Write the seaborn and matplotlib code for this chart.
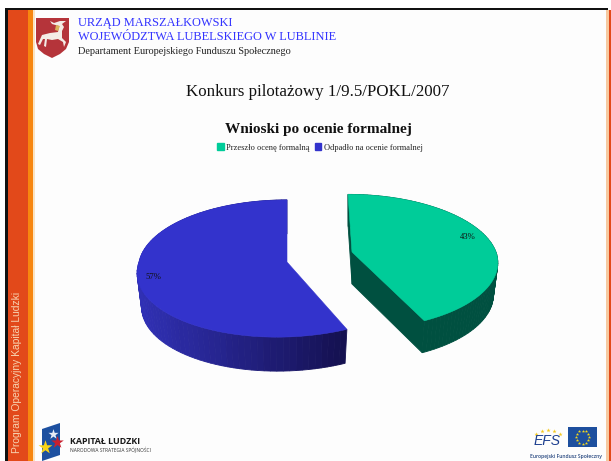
import matplotlib
matplotlib.use('Agg')
import matplotlib.pyplot as plt
from matplotlib.patches import Rectangle, Patch, Polygon
import numpy as np
import seaborn as sns

labels = ['Przeszło ocenę formalną', 'Odpadło na ocenie formalnej']
values = [43, 57]

sns.set_theme(style='white')
serif = ['Liberation Serif', 'DejaVu Serif']
plt.rcParams['font.family'] = serif

top_colors = sns.color_palette(['#00CC99', '#3333CC'])
bg = '#FDFDFD'

fig = plt.figure(figsize=(6.11, 4.61), dpi=100, facecolor='white')
ax = fig.add_axes([0, 0, 1, 1])
ax.set_xlim(0, 611)
ax.set_ylim(461, 0)
ax.axis('off')


def rect(x0, y0, x1, y1, color, z=1):
    ax.add_patch(Rectangle((x0, y0), x1 - x0, y1 - y0, color=color, lw=0, zorder=z))


# slide background and frame
rect(8, 10, 608, 461, bg)
rect(5, 8, 608, 10.5, '#111111')
rect(5, 8, 8, 461, '#111111')
rect(8, 10.5, 28, 461, '#E2491A')
rect(28, 10.5, 33, 461, '#F7860F')
rect(33, 10.5, 35, 461, '#FBE3C0')
rect(606, 10.5, 608.5, 461, '#F6C9A0')
rect(608.5, 10.5, 611, 461, '#E2491A')


def project(theta, r, geo):
    # theta clockwise from 12 o'clock, v points at the viewer
    u = r * np.sin(theta)
    v = -r * np.cos(theta)
    s = 1 / (1 - geo['k'] * v)
    x = geo['cx'] + geo['a'] * u * s + geo['shear'] * np.clip(v, 0, None) - geo['back'] * np.clip(-v, 0, None)
    y = geo['cy'] + geo['b'] * v * s
    return x, y


def slice_outline(start, end, geo):
    th = np.linspace(start, end, 90)
    x, y = project(th, 1.0, geo)
    x0, y0 = project(0.0, 0.0, geo)
    return np.r_[x0, x, x0], np.r_[y0, y, y0]


def draw_slice(start, end, geo, top, side_colors, cuts=True):
    x, y = slice_outline(start, end, geo)
    # bottom edge sits a bit further away, so it is narrower
    xb = geo['cx'] + (x - geo['cx']) * 0.97
    yb = y + geo['depth']
    lo, hi = x.min(), x.max()
    segs = np.arange(len(x) - 1) if cuts else np.arange(1, len(x) - 2)
    # side walls first, top face goes over them
    for i in segs[np.argsort(y[segs] + y[segs + 1])]:
        t = ((x[i] + x[i + 1]) / 2 - lo) / (hi - lo)
        c = side_colors[int(t * (len(side_colors) - 1))]
        ax.fill([x[i], x[i + 1], xb[i + 1], xb[i]], [y[i], y[i + 1], yb[i + 1], yb[i]],
                color=c, lw=0.6, zorder=3)
    ax.fill(x, y, color=top, lw=0.4, zorder=4)


green_geo = dict(cx=352, cy=252, a=144, b=66, k=0.145, shear=2, back=4, depth=32)
blue_geo = dict(cx=287, cy=262, a=148, b=68, k=0.095, shear=-10, back=0, depth=34)

split = 2 * np.pi * values[0] / sum(values)
green_sides = sns.blend_palette(['#005040', '#005040'], 8)
blue_sides = sns.blend_palette(['#3030B4', '#14104E'], 40)
# blue slice runs from the split on round to 12 o'clock
draw_slice(split, 2 * np.pi, blue_geo, top_colors[1], blue_sides, cuts=False)
draw_slice(0, split, green_geo, top_colors[0], green_sides)

ax.text(468, 236.5, f'{values[0]}%', fontsize=6.2, ha='center', va='center', color='#111111', zorder=5)
ax.text(153, 276.5, f'{values[1]}%', fontsize=6.2, ha='center', va='center', color='#111111', zorder=5)

# titles
ax.text(318, 92.5, 'Konkurs pilotażowy 1/9.5/POKL/2007', fontsize=12.2, ha='center', va='center', color='#111111')
ax.text(318.5, 129.5, 'Wnioski po ocenie formalnej', fontsize=11, fontweight='bold', ha='center', va='center', color='#111111')

handles = [Patch(color=c) for c in top_colors]
ax.legend(handles, labels, loc='center', bbox_to_anchor=(320, 147.5), bbox_transform=ax.transData,
          ncol=2, frameon=False, fontsize=6.0, handlelength=0.8, handleheight=0.8,
          handletextpad=0.3, columnspacing=0.6, labelcolor='#222222')

# header
ax.text(78, 23, 'URZĄD MARSZAŁKOWSKI', fontsize=8.9, color='#3333FF', va='center')
ax.text(78, 37.5, 'WOJEWÓDZTWA LUBELSKIEGO W LUBLINIE', fontsize=8.9, color='#3333FF', va='center')
ax.text(78, 51, 'Departament Europejskiego Funduszu Społecznego', fontsize=7.35, color='#222222', va='center')

# coat of arms
sh = np.array([[36, 18], [69, 18], [69, 42], [66, 49], [60, 54], [52, 58], [44, 54], [38, 49], [36, 42]])
ax.add_patch(Polygon(sh, color='#B5343A', lw=0, zorder=2))
deer = np.array([[38, 44], [42, 35], [50, 33], [58, 32], [59, 26], [52, 24], [50, 21], [54, 23], [60, 21], [66, 21],
                 [62, 24], [64, 27], [62, 31], [62, 38], [66, 42], [64, 47], [63, 42], [58, 39], [52, 40], [47, 39],
                 [43, 39], [40, 45]])
ax.add_patch(Polygon(deer, color='#F4ECE6', lw=0, zorder=3))
ax.add_patch(Polygon([[45, 39], [47, 39], [46, 47], [44, 46]], color='#F4ECE6', lw=0, zorder=3))
ax.add_patch(Polygon([[56, 25], [60, 26], [58, 31], [55, 30]], color='#D9B25A', lw=0, zorder=4))

# side band text
ax.text(17.5, 372, 'Program Operacyjny Kapitał Ludzki', rotation=90, fontsize=7.4, family='Liberation Sans',
        color='#F7D2B0', ha='center', va='center')

# Kapitał Ludzki logo
ax.add_patch(Polygon([[42, 429], [60, 423], [60, 455], [42, 461]], color='#1D50A0', lw=0, zorder=2))
ax.scatter([53], [434], marker='*', s=60, color='#E8ECF4', lw=0, zorder=3)
ax.scatter([57], [442], marker='*', s=90, color='#C8202E', lw=0, zorder=4)
ax.scatter([45], [447], marker='*', s=110, color='#F7D417', lw=0, zorder=4)
ax.text(69.5, 441, 'KAPITAŁ LUDZKI', fontsize=6.4, family='Open Sans', fontweight='bold', color='#1A1A1A', va='center')
ax.text(70, 449, 'NARODOWA STRATEGIA SPÓJNOŚCI', fontsize=3.5, family='Open Sans', color='#333333', va='center')

# EFS and EU logos
ax.text(547, 441, 'EFS', fontsize=10, family='Liberation Sans', style='italic', color='#1D3F8F', ha='center', va='center')
ax.scatter([536, 542, 548, 554, 560], [434, 431, 430, 431, 434], marker='*', s=10, color='#F4C81E', lw=0)
rect(567.5, 427, 597, 447, '#1D4F9E')
star_angles = np.arange(12) * np.pi / 6
ax.scatter(582.5 + 6.5 * np.cos(star_angles), 437 + 6.5 * np.sin(star_angles), marker='*', s=6, color='#F7D917', lw=0, zorder=3)
ax.text(565.5, 456, 'Europejski Fundusz Społeczny', fontsize=3.6, family='Open Sans', fontweight='semibold', color='#26477F', ha='center', va='center')

fig.savefig('out.png', dpi=100, facecolor='white')
